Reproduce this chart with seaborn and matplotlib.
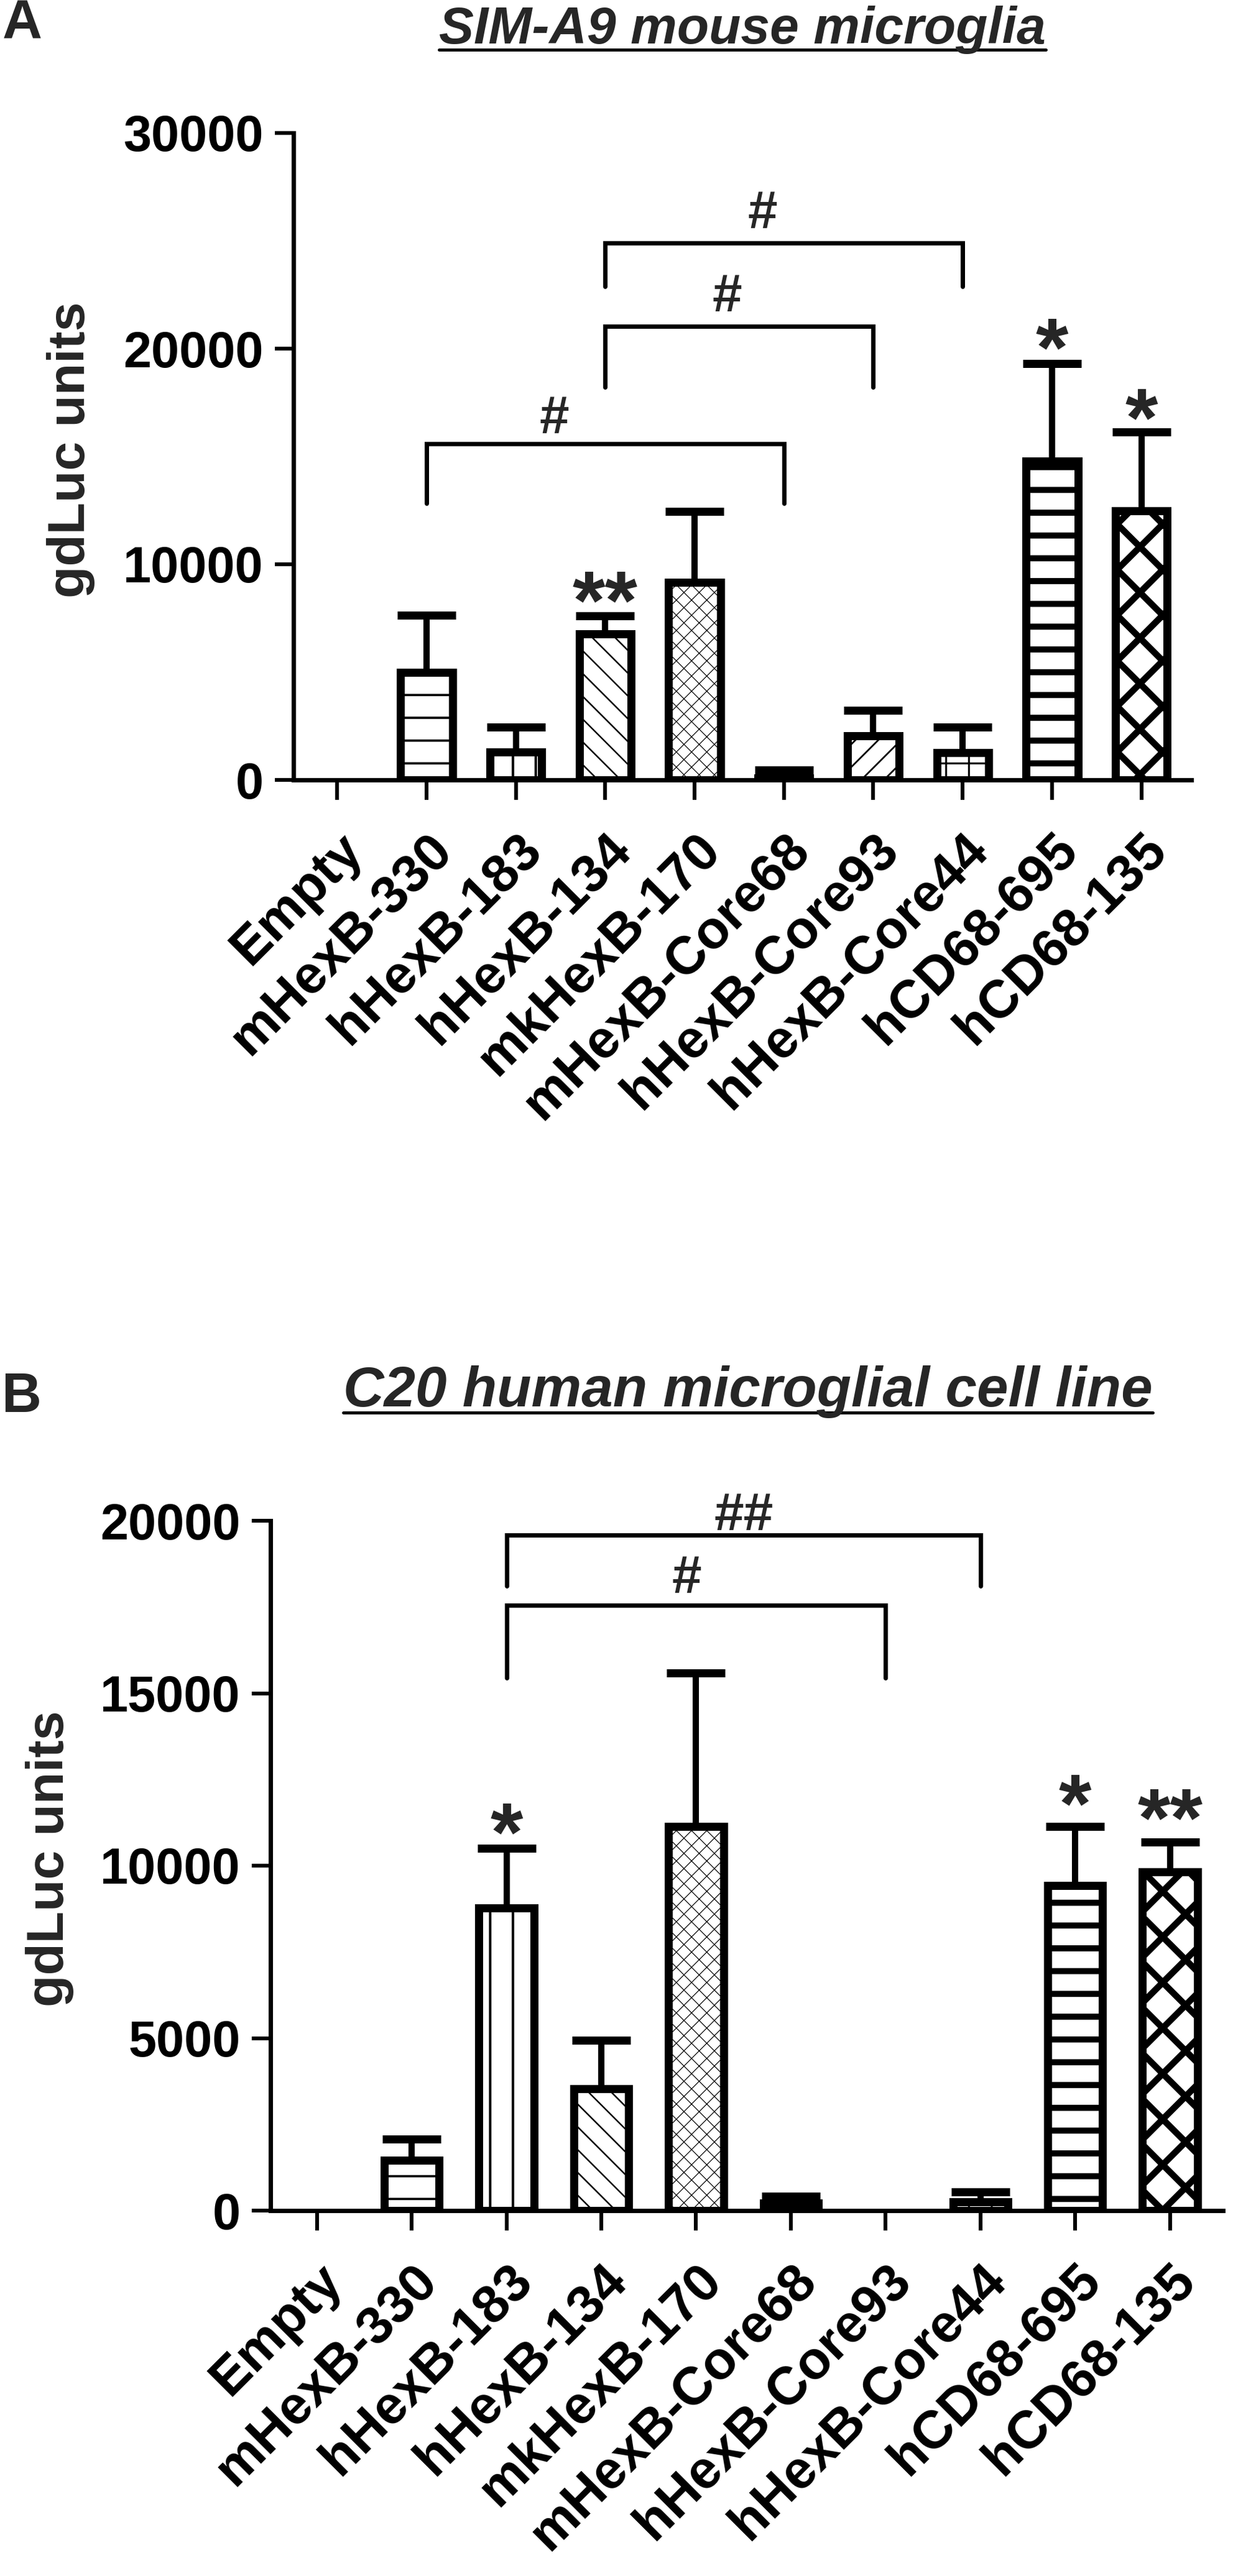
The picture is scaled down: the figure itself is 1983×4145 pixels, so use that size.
import numpy as np
import matplotlib
matplotlib.use("Agg")
import matplotlib.pyplot as plt
import seaborn as sns
from matplotlib.lines import Line2D

# ---------------- data ----------------
categories = ['Empty', 'mHexB-330', 'hHexB-183', 'hHexB-134', 'mkHexB-170',
              'mHexB-Core68', 'hHexB-Core93', 'hHexB-Core44', 'hCD68-695', 'hCD68-135']

a_mean = [0, 5000, 1300, 6780, 9150, 100, 2050, 1270, 14770, 12480]
a_err = [0, 2650, 1150, 820, 3300, 350, 1180, 1180, 4550, 3670]
b_mean = [0, 1460, 8780, 3530, 11140, 210, 0, 250, 9420, 9820]
b_err = [0, 610, 1720, 1410, 4450, 210, 0, 290, 1720, 860]

a_ticks = [0, 10000, 20000, 30000]
b_ticks = [0, 5000, 10000, 15000, 20000]

a_title = 'SIM-A9 mouse microglia'
b_title = 'C20 human microglial cell line'
y_label = 'gdLuc units'

# significance stars: category index, text, y of glyph centre
a_star_idx = [3, 8, 9]
a_star_txt = ['**', '*', '*']
a_star_y = [9280, 21000, 17760]
b_star_idx = [2, 8, 9]
b_star_txt = ['*', '*', '**']
b_star_y = [11560, 12390, 11990]

# comparison brackets
a_br_left = [3, 3, 1]
a_br_right = [7, 6, 5]
a_br_top = [24900, 21040, 15600]
a_br_foot = [22880, 18210, 12810]
a_br_lab_x = [4.76, 4.36, 2.43]
a_br_lab_y = [26450, 22580, 16950]
a_br_txt = ['#', '#', '#']

b_br_left = [2, 2]
b_br_right = [7, 6]
b_br_top = [19580, 17550]
b_br_foot = [18100, 15440]
b_br_lab_x = [4.5, 3.9]
b_br_lab_y = [20270, 18450]
b_br_txt = ['##', '#']

hatches = ['', '-', '|', '\\\\', 'xxx', '', '//', '+', '-', 'x']
hatch_lw = [1.0, 1.2, 1.3, 0.8, 0.4, 1.0, 0.9, 1.0, 3.2, 3.4]

# ---------------- style ----------------
sns.set_theme(style='ticks')
plt.rcParams['font.family'] = ['Liberation Sans', 'DejaVu Sans']
plt.rcParams['font.weight'] = 'bold'
plt.rcParams['axes.labelweight'] = 'bold'
plt.rcParams['hatch.linewidth'] = 1.2
plt.rcParams['hatch.color'] = 'black'

W, H, DPI = 1983, 4145, 220
fig = plt.figure(figsize=(W / DPI, H / DPI), dpi=DPI)
fig.patch.set_facecolor('white')

BAR_LW = 4.25
ERR_LW = 3.3
CAP = 15.4
CAP_T = 4.25
SPINE_LW = 2.3
BR_LW = 2.3
TICK_FS = 26.5
XT_FS = 28
STAR_FS = 44
HASH_FS = 28
PANEL_FS = 29


def rect(l, t, r, b):
    return [l / W, 1 - b / H, (r - l) / W, (b - t) / H]


def draw_panel(ax, means, errs, ticks, star_idx, star_txt, star_y,
               br_l, br_r, br_top, br_foot, br_lx, br_ly, br_txt, ylab_x):
    sns.barplot(x=categories, y=means, ax=ax, color='white', edgecolor='black',
                linewidth=BAR_LW, width=0.58, errorbar=None, saturation=1)
    for p, h, hl, m in zip(ax.patches, hatches, hatch_lw, means):
        p.set_hatch(h)
        try:
            p.set_hatch_linewidth(hl)
        except AttributeError:
            pass
        if m == 0:
            p.set_linewidth(0)
    idx = [i for i, e in enumerate(errs) if e > 0]
    ax.errorbar(idx, [means[i] for i in idx],
                yerr=[[0] * len(idx), [errs[i] for i in idx]],
                fmt='none', ecolor='black', elinewidth=ERR_LW, capsize=CAP,
                capthick=CAP_T, zorder=5, clip_on=False)
    ax.set_ylim(ticks[0], ticks[-1])
    ax.set_yticks(ticks)
    ax.set_yticklabels([str(t) for t in ticks], fontsize=TICK_FS, fontweight='bold')
    ax.set_xlim(-0.49, 9.56)
    ax.set_xticks(range(len(categories)))
    ax.set_xticklabels(categories, rotation=45, ha='right', va='top',
                       rotation_mode='anchor', fontsize=XT_FS, fontweight='bold')
    ax.set_xlabel('')
    ax.set_ylabel(y_label, fontsize=27.5, fontweight='bold')
    ax.yaxis.set_label_coords(ylab_x, 0.51)
    sns.despine(ax=ax)
    for s in ['left', 'bottom']:
        ax.spines[s].set_linewidth(SPINE_LW)
        ax.spines[s].set_color('black')
    ax.tick_params(axis='y', length=9.8, width=2.0, pad=6, colors='black')
    ax.tick_params(axis='x', length=10.5, width=2.0, pad=13, colors='black')
    ax.set_facecolor('white')
    ax.grid(False)
    for i, t, y in zip(star_idx, star_txt, star_y):
        ax.annotate(t, xy=(i, y), xytext=(0, -14.3), textcoords='offset points',
                    ha='center', va='center', fontsize=STAR_FS, fontweight='bold',
                    annotation_clip=False)
    for l, r, top, foot, lx, ly, t in zip(br_l, br_r, br_top, br_foot, br_lx, br_ly, br_txt):
        ax.plot([l, l, r, r], [foot, top, top, foot], color='black', lw=BR_LW,
                clip_on=False, solid_joinstyle='miter', zorder=6)
        ax.annotate(t, xy=(lx, ly), xytext=(0, -2.6), textcoords='offset points',
                    ha='center', va='center', fontsize=HASH_FS, fontweight='bold',
                    annotation_clip=False)


axA = fig.add_axes(rect(472, 214, 1916, 1255))
draw_panel(axA, a_mean, a_err, a_ticks, a_star_idx, a_star_txt, a_star_y,
           a_br_left, a_br_right, a_br_top, a_br_foot, a_br_lab_x, a_br_lab_y,
           a_br_txt, -0.221)

axB = fig.add_axes(rect(435, 2447, 1967, 3557))
draw_panel(axB, b_mean, b_err, b_ticks, b_star_idx, b_star_txt, b_star_y,
           b_br_left, b_br_right, b_br_top, b_br_foot, b_br_lab_x, b_br_lab_y,
           b_br_txt, -0.206)

# titles with underline
renderer = fig.canvas.get_renderer()
for txt, cx, base, fs in [(a_title, 1194, 70, 27.5), (b_title, 1203, 2263, 29.7)]:
    t = fig.text(cx / W, 1 - base / H, txt, ha='center', va='baseline',
                 fontsize=fs, fontstyle='italic', fontweight='bold')
    bb = t.get_window_extent(renderer)
    uy = 1 - (base + 10) / H
    fig.add_artist(Line2D([bb.x0 / W, bb.x1 / W], [uy, uy],
                          transform=fig.transFigure, color='black', lw=1.6))

fig.text(4 / W, 1 - 62 / H, 'A', ha='left', va='baseline', fontsize=PANEL_FS,
         fontweight='bold')
fig.text(2 / W, 1 - 2272 / H, 'B', ha='left', va='baseline', fontsize=PANEL_FS,
         fontweight='bold')

fig.savefig('out.png', dpi=DPI, facecolor='white')
